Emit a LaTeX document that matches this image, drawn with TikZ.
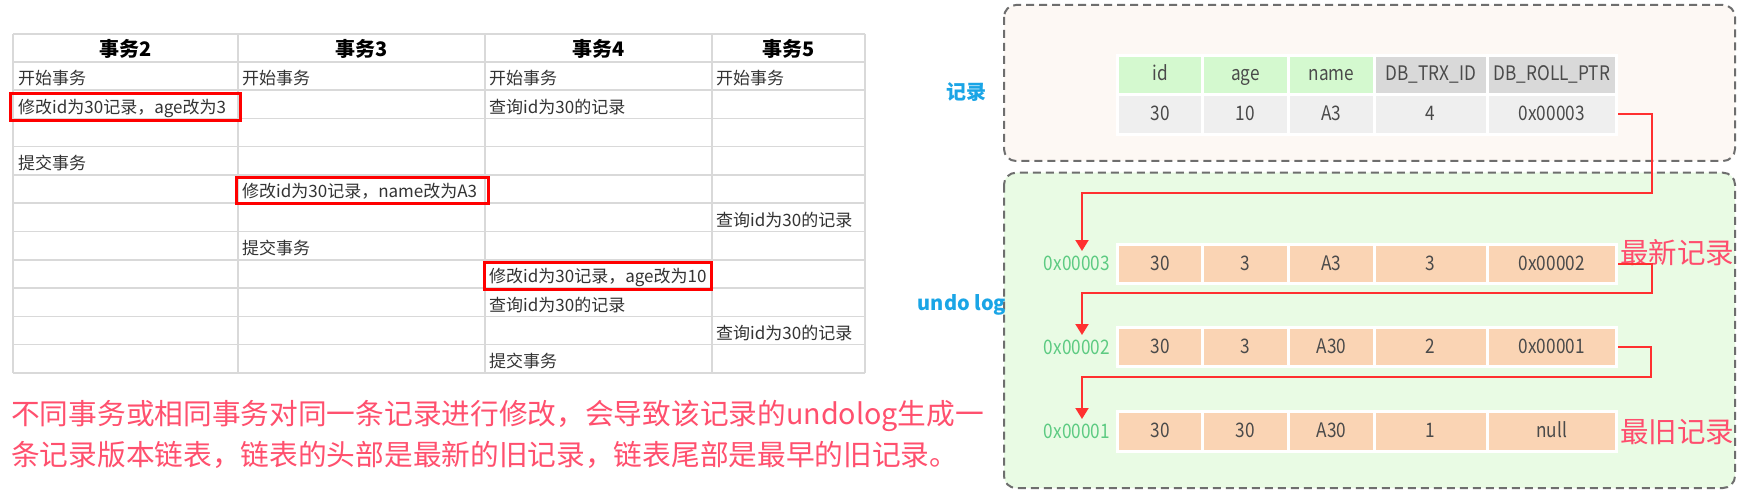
\documentclass[tikz,border=0pt]{standalone}
\usepackage{fontspec}
\setmainfont{Noto Sans CJK SC}
\newfontfamily\narrowfont{Noto Sans CJK SC}[FakeStretch=0.86]
\usetikzlibrary{arrows.meta}
\definecolor{gridgray}{HTML}{D9D9D9}
\definecolor{tdtext}{HTML}{333333}
\definecolor{hlred}{HTML}{FF0000}
\definecolor{notered}{HTML}{FF506E}
\definecolor{tagred}{HTML}{FF4D6D}
\definecolor{connred}{HTML}{FF3030}
\definecolor{addrgreen}{HTML}{5DCB82}
\definecolor{areablue}{HTML}{1AA5E6}
\definecolor{boxgray}{HTML}{6E6E6E}
\definecolor{upperbg}{HTML}{FDF8F4}
\definecolor{lowerbg}{HTML}{E9FBE4}
\definecolor{hdrgreen}{HTML}{D4F9CF}
\definecolor{hdrgray}{HTML}{D9D9D9}
\definecolor{datagray}{HTML}{EFEFEF}
\definecolor{peachc}{HTML}{FAD4B4}
\definecolor{celltext}{HTML}{4A4A4A}
\tikzset{
 grid/.style={draw=gridgray, line width=1.5pt},
 th/.style={font=\fontsize{20}{24}\selectfont\bfseries, text=black, anchor=base, inner sep=0pt},
 td/.style={font=\fontsize{17}{20}\selectfont, text=tdtext, anchor=base west, inner sep=0pt},
 hl/.style={draw=hlred, line width=3pt},
 note/.style={font=\fontsize{28.7}{34}\selectfont, text=notered, anchor=base west, inner sep=0pt},
 cellbase/.style={draw=white, line width=3pt, inner sep=0pt, text height=14pt, text depth=2pt, font=\narrowfont\fontsize{20}{24}\selectfont, text=celltext, minimum height=39.5pt},
 hgreen/.style={cellbase, fill=hdrgreen},
 hgray/.style={cellbase, fill=hdrgray},
 dgray/.style={cellbase, fill=datagray},
 peach/.style={cellbase, fill=peachc},
 addr/.style={font=\narrowfont\fontsize{20}{24}\selectfont, text=addrgreen, anchor=base east, inner sep=0pt},
 tag/.style={font=\fontsize{28.5}{34}\selectfont, text=tagred, anchor=west, inner sep=0pt},
 area/.style={font=\fontsize{20}{24}\selectfont\bfseries, text=areablue, inner sep=0pt},
 dashbox/.style={draw=boxgray, line width=2pt, dash pattern=on 8pt off 5pt, rounded corners=12pt},
 conn/.style={draw=connred, line width=2pt, -{Triangle[width=13pt,length=11pt]}},
 wA/.style={minimum width=85pt}, wB/.style={minimum width=86pt},
 wC/.style={minimum width=86pt}, wD/.style={minimum width=112.5pt},
 wE/.style={minimum width=129.5pt},
}
\begin{document}
\begin{tikzpicture}[x=1pt,y=-1pt]
\useasboundingbox (0,0) rectangle (1750,497);
\fill[white] (0,0) rectangle (1750,497);

% ---------- table grid ----------
\foreach \yy in {34,62,90.25,118.5,146.75,175,203.25,231.5,259.75,288,316.25,344.5,372.75}
  \draw[grid] (13,\yy) -- (865,\yy);
\foreach \xx in {13,238,485,712,865}
  \draw[grid] (\xx,34) -- (\xx,372.75);

% headers
\node[th] (h2) at (125.5,57) {事务2};
\node[th] (h3) at (361.5,57) {事务3};
\node[th] (h4) at (598.5,57) {事务4};
\node[th] (h5) at (788.5,57) {事务5};

% body
\node[td] (a1) at (18,85) {开始事务};
\node[td] (b1) at (242,85) {开始事务};
\node[td] (c1) at (489,85) {开始事务};
\node[td] (d1) at (716,85) {开始事务};
\node[td] (a2) at (18,113.25) {修改id为30记录，age改为3};
\node[td] (c2) at (489,113.25) {查询id为30的记录};
\node[td] (a4) at (18,169.75) {提交事务};
\node[td] (b5) at (242,198) {修改id为30记录，name改为A3};
\node[td] (d6) at (716,226.25) {查询id为30的记录};
\node[td] (b7) at (242,254.5) {提交事务};
\node[td] (c8) at (489,282.75) {修改id为30记录，age改为10};
\node[td] (c9) at (489,311) {查询id为30的记录};
\node[td] (d10) at (716,339.25) {查询id为30的记录};
\node[td] (c11) at (489,367.5) {提交事务};

% highlight boxes
\draw[hl] (10,94) rectangle (240,120.5);
\draw[hl] (236.5,177.3) rectangle (488,204);
\draw[hl] (484,262.3) rectangle (711.7,289.3);

% note
\node[note] (n1) at (11,424) {不同事务或相同事务对同一条记录进行修改，会导致该记录的undolog生成一};
\node[note] (n2) at (11,465) {条记录版本链表，链表的头部是最新的旧记录，链表尾部是最早的旧记录。};

% ---------- right diagram ----------
\draw[dashbox, fill=upperbg] (1004,5) rectangle (1735,161);
\draw[dashbox, fill=lowerbg] (1004,172.7) rectangle (1735,488);

\node[area] (lrec) at (966,92) {记录};
\node[area] (lundo) at (962,305) {undo log};

% current record
\node[hgreen,wA] (u1) at (1160,75) {id};
\node[hgreen,wB] (u2) at (1245.5,75) {age};
\node[hgreen,wC] (u3) at (1331.5,75) {name};
\node[hgray,wD] (u4) at (1430.75,75) {DB\_TRX\_ID};
\node[hgray,wE] (u5) at (1551.75,75) {DB\_ROLL\_PTR};
\node[dgray,wA] (v1) at (1160,114.5) {30};
\node[dgray,wB] (v2) at (1245.5,114.5) {10};
\node[dgray,wC] (v3) at (1331.5,114.5) {A3};
\node[dgray,wD] (v4) at (1430.75,114.5) {4};
\node[dgray,wE] (v5) at (1551.75,114.5) {0x00003};

% undo log rows
\node[addr] (m1) at (1110,270.7) {0x00003};
\node[peach,wA] (p11) at (1160,264) {30};
\node[peach,wB] (p12) at (1245.5,264) {3};
\node[peach,wC] (p13) at (1331.5,264) {A3};
\node[peach,wD] (p14) at (1430.75,264) {3};
\node[peach,wE] (p15) at (1551.75,264) {0x00002};

\node[addr] (m2) at (1110,354) {0x00002};
\node[peach,wA] (p21) at (1160,347) {30};
\node[peach,wB] (p22) at (1245.5,347) {3};
\node[peach,wC] (p23) at (1331.5,347) {A30};
\node[peach,wD] (p24) at (1430.75,347) {2};
\node[peach,wE] (p25) at (1551.75,347) {0x00001};

\node[addr] (m3) at (1110,438.3) {0x00001};
\node[peach,wA] (p31) at (1160,431.3) {30};
\node[peach,wB] (p32) at (1245.5,431.3) {30};
\node[peach,wC] (p33) at (1331.5,431.3) {A30};
\node[peach,wD] (p34) at (1430.75,431.3) {1};
\node[peach,wE] (p35) at (1551.75,431.3) {null};

\node[tag] (newest) at (1620,253) {最新记录};
\node[tag] (oldest) at (1620,431.7) {最旧记录};

% connectors
\coordinate (k1) at (1652,193.3);
\coordinate (k2) at (1652,293.3);
\coordinate (k3) at (1651,376.7);
\coordinate (t1) at (1082,251);
\coordinate (t2) at (1082,335);
\coordinate (t3) at (1082,419);
\draw[conn] (v5.east) -| (k1) -| (t1);
\draw[conn] (p15.east) -| (k2) -| (t2);
\draw[conn] (p25.east) -| (k3) -| (t3);
\end{tikzpicture}
\end{document}
